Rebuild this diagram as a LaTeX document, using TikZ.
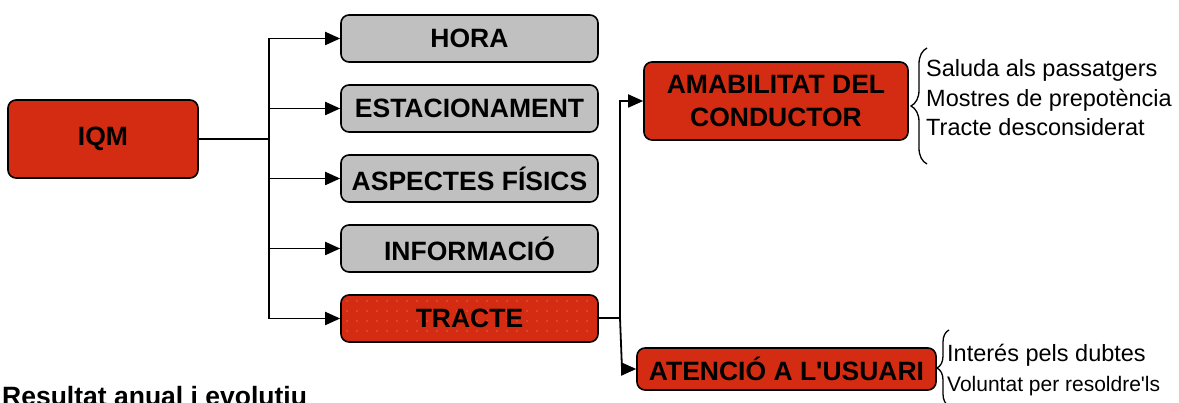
\documentclass[tikz,border=0pt]{standalone}
\usepackage{fontspec}
\setmainfont{Liberation Sans}
\usepackage{xcolor}
\usepackage{tikz}
\usetikzlibrary{arrows.meta,positioning,decorations.pathreplacing}
\definecolor{iqmred}{RGB}{212,44,18}
\definecolor{catgray}{RGB}{192,192,192}
\definecolor{dotpink}{RGB}{236,150,135}

\begin{document}
\begin{tikzpicture}[
  x=1pt, y=1pt,
  node distance=21.4pt and 143pt,
  mainbox/.style={draw,line width=1.6pt,rounded corners=8pt,fill=iqmred,align=center,inner sep=0pt,font=\bfseries\fontsize{26.5}{33}\selectfont},
  catbox/.style={mainbox,fill=catgray,minimum width=257pt,minimum height=47pt},
  arrow/.style={-{Triangle[length=15pt,width=13pt]},line width=1.8pt},
  notes/.style={anchor=west,align=left,inner sep=0pt,font=\fontsize{23.5}{29.5}\selectfont},
  curly/.style={decorate,decoration={brace,amplitude=#1},line width=1.3pt}
]
\useasboundingbox (0,0) rectangle (1179,-403);

\node[mainbox,minimum width=190pt,minimum height=78pt] (iqm) at (103,-139) {IQM};
\node[catbox] (hora) at (469.5,-38.5) {HORA};
\node[catbox, below=of hora] (estac) {ESTACIONAMENT};
\node[catbox, below=of estac] (aspectes) {ASPECTES FÍSICS};
\node[catbox, below=of aspectes] (info) {INFORMACIÓ};
\node[catbox, below=of info, fill=iqmred, path picture={
    \foreach \i in {0,...,24}
      \foreach \j in {0,...,3}
        \fill[dotpink] ([shift={(6+10*\i,11+10*\j)}]path picture bounding box.south west) circle (0.7pt);
  }] (tracte) {TRACTE};
\node[mainbox,minimum width=264pt,minimum height=78pt] (amab) at (776,-101) {AMABILITAT DEL\\CONDUCTOR};
\node[mainbox,minimum width=299pt,minimum height=42pt] (atencio) at (786.5,-369) {ATENCIÓ A L\textquotesingle USUARI};

\node[notes] (amabnotes) at (926,-98) {Saluda als passatgers\\Mostres de prepotència\\Tracte desconsiderat};
\node[notes] (atennotes) at (947,-370) {Interés pels dubtes\\{\fontsize{21}{28}\selectfont Voluntat per resoldre\textquotesingle ls}};
\node[anchor=base west,inner sep=0pt,font=\bfseries\fontsize{26.5}{30}\selectfont] (title) at (2,-406) {Resultat anual i evolutiu};

\coordinate (split) at (269,-139);
\coordinate (fork) at (620,-318);
\coordinate (bend) at (622,-369);
\draw[line width=2.2pt] (iqm) -- (split);
\foreach \b in {hora,estac,aspectes,info,tracte}
  \draw[arrow] (split) |- (\b);
\draw[line width=1.8pt] (tracte) -- (fork);
\draw[arrow] (fork) |- (amab);
\draw[arrow] (fork) -- (bend) -- (atencio);

\coordinate (amabtop) at (927,-48);
\coordinate (amabbot) at (927,-164);
\coordinate (atentop) at (949,-330);
\coordinate (atenbot) at (949,-406);
\draw[curly=16pt] (amabbot) -- (amabtop);
\draw[curly=12pt] (atenbot) -- (atentop);
\end{tikzpicture}
\end{document}
